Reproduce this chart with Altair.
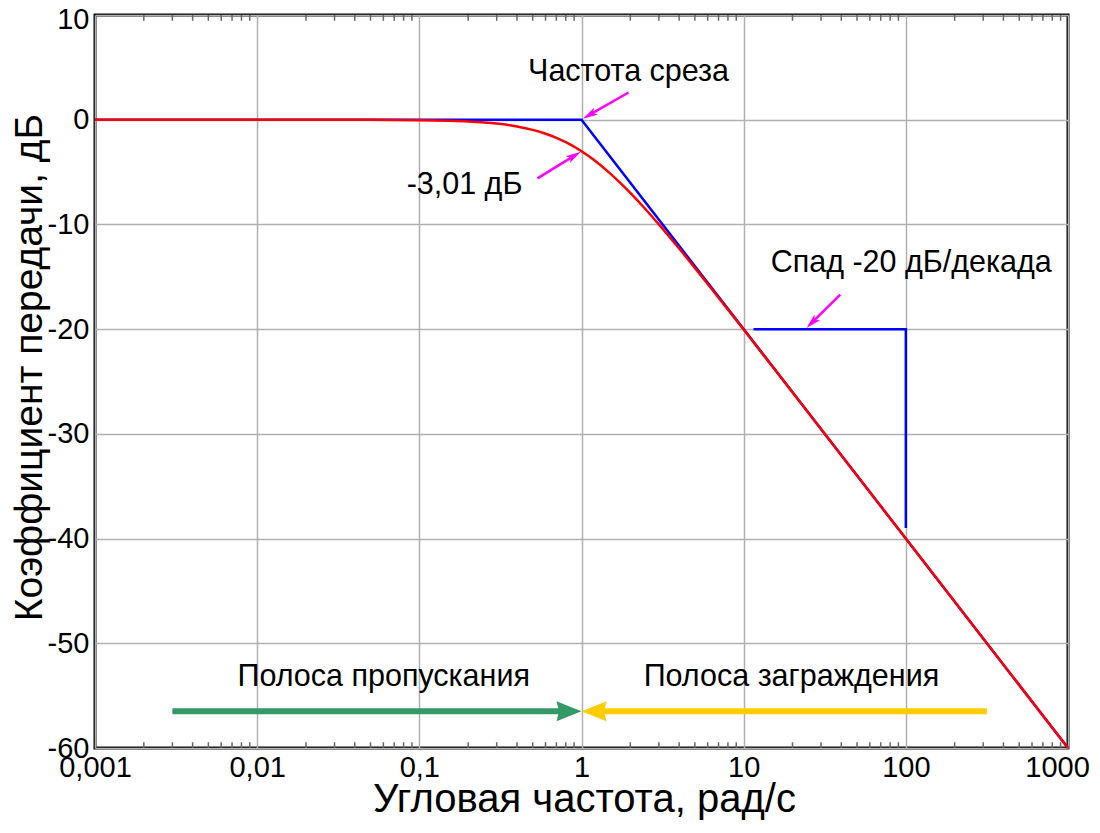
import altair as alt
import pandas as pd
import numpy as np

# ---- data ----
freq = [0.001, 0.01, 0.05, 0.1, 0.15, 0.2, 0.3, 0.4, 0.5, 0.6, 0.7, 0.8, 1.0, 1.2, 1.5, 2.0, 2.5, 3.0, 4.0, 5.0, 7.0, 10.0, 20.0, 50.0, 100.0, 1000.0]
gain_db = [0.0, 0.0, -0.01, -0.04, -0.10, -0.17, -0.37, -0.64, -0.97, -1.34, -1.73, -2.15, -3.01, -3.87, -5.12, -6.99, -8.60, -10.0, -12.3, -14.15, -17.0, -20.04, -26.03, -33.98, -40.0, -60.0]

asym_freq = [0.001, 1.0, 1000.0]
asym_db = [0.0, 0.0, -60.0]

step_freq = [11.5, 100.0, 100.0]
step_db = [-20.0, -20.0, -39.0]

x_ticks = [0.001, 0.01, 0.1, 1, 10, 100, 1000]
x_tick_labels = ["0,001", "0,01", "0,1", "1", "10", "100", "1000"]
y_ticks = [-60, -50, -40, -30, -20, -10, 0, 10]

minor_ticks = [m * d for d in [0.001, 0.01, 0.1, 1, 10, 100] for m in range(2, 10)]

# annotation arrows (start -> tip)
mag_start_x = [1.95, 0.535, 39.4]
mag_start_y = [2.6, -5.6, -16.7]
mag_end_x = [1.02, 0.99, 24.4]
mag_end_y = [0.1, -3.05, -19.9]

band_arrow_y = -56.5
pass_start = 0.003
stop_start = 316.0

labels_text = ["Частота среза", "-3,01 дБ", "Спад -20 дБ/декада", "Полоса пропускания", "Полоса заграждения"]
labels_x = [1.95, 0.19, 108.0, 0.0603, 19.7]
labels_y = [4.6, -6.2, -13.7, -53.2, -53.2]

W, H = 973, 733
FONT = "Liberation Sans"
PX_PER_DEC = W / 6.0
PX_PER_DB = H / 70.0

xs = alt.Scale(type="log", domain=[0.001, 1000], nice=False)
ys = alt.Scale(domain=[-60, 10], nice=False, zero=False)

label_map = "{" + ",".join(f"'{v}':'{l}'" for v, l in zip(x_ticks, x_tick_labels)) + "}"

x_axis = alt.Axis(values=x_ticks, grid=True, ticks=False, domain=False,
                  labelExpr=f"{label_map}[toString(datum.value)] || toString(datum.value)",
                  labelOffset={"condition": {"test": "datum.value == 1000", "value": -11}, "value": 0},
                  labelFontSize=29, labelPadding=5, labelFont=FONT, labelColor="black",
                  title="Угловая частота, рад/с", titleFontSize=40, titleFont=FONT,
                  titleFontWeight="normal", titleColor="black",
                  titleX=489, titleY=63, titleBaseline="alphabetic", titleAnchor="middle",
                  gridColor="#b0b0b0", gridWidth=1.5, labelFlush=False)
y_axis = alt.Axis(values=y_ticks, grid=True, ticks=False, domain=False,
                  labelExpr="toString(datum.value)",
                  labelOffset={"condition": {"test": "datum.value == 10", "value": 4}, "value": 0},
                  labelFontSize=29, labelPadding=6, labelFont=FONT, labelColor="black",
                  title="Коэффициент передачи, дБ", titleFontSize=39, titleFont=FONT,
                  titleFontWeight="normal", titleColor="black",
                  titleX=-66, titleY=352, titleBaseline="middle", titleAngle=270, titleAnchor="middle",
                  gridColor="#b0b0b0", gridWidth=1.5, labelFlush=False)


def X(f="f"):
    return alt.X(f"{f}:Q", scale=xs, axis=x_axis)


def Y(f="g"):
    return alt.Y(f"{f}:Q", scale=ys, axis=y_axis)


df_red = pd.DataFrame({"f": freq, "g": gain_db})
df_asym = pd.DataFrame({"f": asym_freq, "g": asym_db})
df_step = pd.DataFrame({"f": step_freq, "g": step_db, "o": [0, 1, 2]})

minor_df = pd.DataFrame({
    "f": minor_ticks * 2,
    "y1": [-60.0] * len(minor_ticks) + [10.0] * len(minor_ticks),
    "y2": [-59.45] * len(minor_ticks) + [9.45] * len(minor_ticks),
})
minor = alt.Chart(minor_df).mark_rule(color="#666666", strokeWidth=1.5).encode(
    x=X(), y=Y("y1"), y2="y2")

asym = alt.Chart(df_asym).mark_line(color="#0000ff", strokeWidth=2.5).encode(x=X(), y=Y())
step = alt.Chart(df_step).mark_line(color="#0000ff", strokeWidth=2.5).encode(
    x=X(), y=Y(), order="o:Q")
red = alt.Chart(df_red).mark_line(color="#ff0000", strokeWidth=2.5, interpolate="monotone").encode(
    x=X(), y=Y())

# magenta arrows: head direction from the scales' pixel geometry
mag_df = pd.DataFrame({"x1": mag_start_x, "y1": mag_start_y, "x2": mag_end_x, "y2": mag_end_y})
dx = (np.log10(mag_df["x2"]) - np.log10(mag_df["x1"])) * PX_PER_DEC
dy = -(mag_df["y2"] - mag_df["y1"]) * PX_PER_DB
length = np.sqrt(dx ** 2 + dy ** 2)
mag_df["a"] = (np.degrees(np.arctan2(dx, -dy)) + 360) % 360
frac = 8.0 / length
mag_df["hx"] = 10 ** (np.log10(mag_df["x2"]) + frac * (np.log10(mag_df["x1"]) - np.log10(mag_df["x2"])))
mag_df["hy"] = mag_df["y2"] + frac * (mag_df["y1"] - mag_df["y2"])
mag_lines = alt.Chart(mag_df).mark_rule(color="#ff00ff", strokeWidth=2.5).encode(
    x=X("x1"), y=Y("y1"), x2="hx", y2="hy")
mag_heads = alt.Chart(mag_df).mark_point(
    shape="M0,-1L0.5,0.9L0,0.45L-0.5,0.9Z", filled=True, color="#ff00ff", size=256, opacity=1,
    strokeWidth=0).encode(x=X("hx"), y=Y("hy"), angle=alt.Angle("a:Q", scale=None))

# band arrows
head_off = 12.5 / PX_PER_DEC
band_df = pd.DataFrame({
    "x1": [pass_start, stop_start], "x2": [10 ** (-head_off), 10 ** head_off],
    "y": [band_arrow_y, band_arrow_y], "c": ["pass", "stop"],
})
band_lines = alt.Chart(band_df).mark_rule(strokeWidth=6).encode(
    x=X("x1"), x2="x2", y=Y("y"),
    color=alt.Color("c:N", scale=alt.Scale(domain=["pass", "stop"], range=["#339966", "#ffcc00"]), legend=None))
head_pass = alt.Chart(band_df.iloc[[0]]).mark_point(shape="M1,0L-1,-0.8L-0.8,0L-1,0.8Z", filled=True,
                                                      color="#339966", size=625, opacity=1,
                                                      strokeWidth=0).encode(x=X("x2"), y=Y("y"))
head_stop = alt.Chart(band_df.iloc[[1]]).mark_point(shape="M-1,0L1,-0.8L0.8,0L1,0.8Z", filled=True,
                                                      color="#ffcc00", size=625, opacity=1,
                                                      strokeWidth=0).encode(x=X("x2"), y=Y("y"))

txt_df = pd.DataFrame({"t": labels_text, "x": labels_x, "y": labels_y})
texts = alt.Chart(txt_df).mark_text(font=FONT, fontSize=30.5, color="black", align="center",
                                    baseline="middle").encode(x=X("x"), y=Y("y"), text="t:N")

chart = alt.layer(minor, asym, step, red, mag_lines, mag_heads, band_lines, head_pass, head_stop, texts).properties(
    width=W, height=H,
    autosize=alt.AutoSizeParams(type="none"),
    padding={"left": 87, "top": 7, "right": 22, "bottom": 76},
    background="white",
).configure_view(stroke="black", strokeWidth=3)

chart.save("out.html", embed_options={"renderer": "svg", "actions": False})
